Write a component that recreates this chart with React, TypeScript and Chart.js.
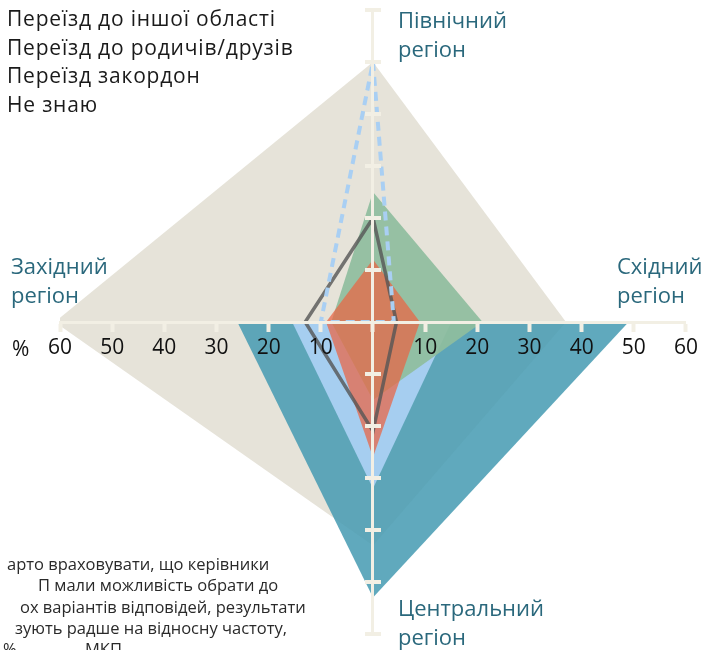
import React, { useEffect, useRef } from 'react';
import { Chart, registerables } from 'chart.js';

Chart.register(...registerables);

// Order of the four axes: North (up), East (right), Central (down), West (left)
const regions = ['Північний регіон', 'Східний регіон', 'Центральний регіон', 'Західний регіон'];

// Series values, percent, in region order [North, East, Central, West]
const seriesBeige = [50, 37, 43, 61];
const seriesTeal = [0, 49, 53, 26];
const seriesLightBlue = [0, 15, 32, 15.5];
const seriesGreen = [25, 21, 15, 8];
const seriesOrange = [12, 9, 26, 9];
const seriesGreyLine = [20, 4.5, 21, 13];
const seriesDashed = [50, 4, 0, 10];

const legendLabels = [
  'Переїзд до іншої області',
  'Переїзд до родичів/друзів',
  'Переїзд закордон',
  'Не знаю',
];

const xTickValues = [-60, -50, -40, -30, -20, -10, 0, 10, 20, 30, 40, 50, 60];
const xTickLabels = ['60', '50', '40', '30', '20', '10', '', '10', '20', '30', '40', '50', '60'];
const yTickValues = [-60, -50, -40, -30, -20, -10, 10, 20, 30, 40, 50, 60];

const noteLines = [
  { text: 'арто враховувати, що керівники', left: 7, top: 553 },
  { text: 'П мали можливість обрати до', left: 38, top: 574 },
  { text: 'ох варіантів відповідей, результати', left: 20, top: 596 },
  { text: 'зують радше на відносну частоту,', left: 15, top: 617 },
  { text: '%', left: 3, top: 638 },
  { text: 'МКП', left: 85, top: 638 },
];

const FONT = '"Open Sans", "Noto Sans", sans-serif';
const CREAM = '#f2efe4';
const LABEL_COLOR = '#2a687c';

const dirs = [
  [0, 1],
  [1, 0],
  [0, -1],
  [-1, 0],
];

function toPoints(vals: number[]) {
  const pts = vals.map((v, i) => ({ x: dirs[i][0] * v, y: dirs[i][1] * v }));
  pts.push(pts[0]);
  return pts;
}

const yTickBars = {
  id: 'yTickBars',
  afterDraw(chart: any) {
    const { ctx, scales } = chart;
    const x = scales.x;
    const y = scales.y;
    const cx = x.getPixelForValue(0);
    ctx.save();
    ctx.fillStyle = CREAM;
    yTickValues.forEach((v) => {
      const py = y.getPixelForValue(v);
      ctx.fillRect(cx - 8, py - 2, 16, 4);
    });
    ctx.restore();
  },
};

export default function App() {
  const canvasRef = useRef<HTMLCanvasElement | null>(null);

  useEffect(() => {
    if (!canvasRef.current) return;
    const filled = (label: string, vals: number[], color: string, order: number) => ({
      label,
      data: toPoints(vals),
      backgroundColor: color,
      borderColor: 'transparent',
      borderWidth: 0,
      fill: 'shape',
      pointRadius: 0,
      tension: 0,
      order,
    });
    const chart = new Chart(canvasRef.current, {
      type: 'line',
      data: {
        datasets: [
          {
            label: 'dashed',
            data: toPoints(seriesDashed),
            borderColor: '#a9cff3',
            borderWidth: 4,
            borderDash: [9, 6],
            fill: false,
            pointRadius: 0,
            tension: 0,
            order: 0,
          },
          {
            label: 'grey',
            data: toPoints(seriesGreyLine),
            borderColor: 'rgba(85,85,85,0.8)',
            borderWidth: 3.5,
            fill: false,
            pointRadius: 0,
            tension: 0,
            order: 1,
          },
          filled('orange', seriesOrange, 'rgba(234,100,66,0.72)', 2),
          filled('green', seriesGreen, 'rgba(143,189,158,0.93)', 3),
          filled('lightblue', seriesLightBlue, 'rgba(168,207,242,0.97)', 4),
          filled('teal', seriesTeal, 'rgba(70,155,178,0.86)', 5),
          filled('beige', seriesBeige, '#e6e3d9', 6),
        ] as any,
      },
      options: {
        animation: false,
        responsive: true,
        maintainAspectRatio: false,
        layout: { padding: { left: 60, right: 17, top: 10, bottom: 16 } },
        plugins: { legend: { display: false }, tooltip: { enabled: false } },
        scales: {
          x: {
            type: 'linear',
            min: -60,
            max: 60,
            position: { y: 0 } as any,
            afterBuildTicks: (s: any) => {
              s.ticks = xTickValues.map((v) => ({ value: v }));
            },
            grid: {
              display: true,
              drawOnChartArea: false,
              drawTicks: true,
              tickLength: 8,
              tickWidth: 4,
              tickColor: CREAM,
              z: 1,
            },
            border: { display: true, color: CREAM, width: 3, z: 1 },
            ticks: {
              autoSkip: false,
              maxRotation: 0,
              padding: 5,
              color: '#111',
              z: 2,
              font: { family: FONT, size: 21 },
              callback: (v: any) => {
                const i = xTickValues.indexOf(Number(v));
                return i >= 0 ? xTickLabels[i] : '';
              },
            },
          },
          y: {
            type: 'linear',
            min: -60,
            max: 60,
            position: { x: 0 } as any,
            grid: { display: false },
            border: { display: true, color: CREAM, width: 3, z: 1 },
            ticks: { display: false },
          },
        },
      } as any,
      plugins: [yTickBars],
    });
    return () => chart.destroy();
  }, []);

  const regionLabel = (name: string, left: number, top: number) => {
    const [a, b] = name.split(' ');
    return (
      <div
        key={name}
        style={{
          position: 'absolute',
          left,
          top,
          fontFamily: FONT,
          fontSize: 22,
          lineHeight: '29px',
          color: LABEL_COLOR,
          whiteSpace: 'nowrap',
        }}
      >
        <div>{a}</div>
        <div>{b}</div>
      </div>
    );
  };

  return (
    <div
      style={{
        position: 'fixed',
        left: 0,
        top: 0,
        width: 703,
        height: 650,
        overflow: 'hidden',
        background: '#fff',
      }}
    >
      <canvas ref={canvasRef} style={{ position: 'absolute', left: 0, top: 0 }} />
      <div style={{ position: 'absolute', left: 7, top: 4, fontFamily: FONT, fontSize: 21, letterSpacing: '0.8px', lineHeight: '28.5px', color: '#1a1a1a', whiteSpace: 'nowrap' }}>
        {legendLabels.map((l) => (
          <div key={l}>{l}</div>
        ))}
      </div>
      {regionLabel(regions[0], 398, 5)}
      {regionLabel(regions[1], 617, 251)}
      {regionLabel(regions[2], 398, 593)}
      {regionLabel(regions[3], 11, 251)}
      <div style={{ position: 'absolute', left: 12, top: 334, fontFamily: FONT, fontSize: 21, color: '#111', lineHeight: '28px' }}>%</div>
      {noteLines.map((n, i) => (
        <div
          key={i}
          style={{
            position: 'absolute',
            left: n.left,
            top: n.top,
            fontFamily: FONT,
            fontSize: 16.5,
            lineHeight: '22px',
            color: '#2a2a2a',
            whiteSpace: 'nowrap',
          }}
        >
          {n.text}
        </div>
      ))}
    </div>
  );
}
